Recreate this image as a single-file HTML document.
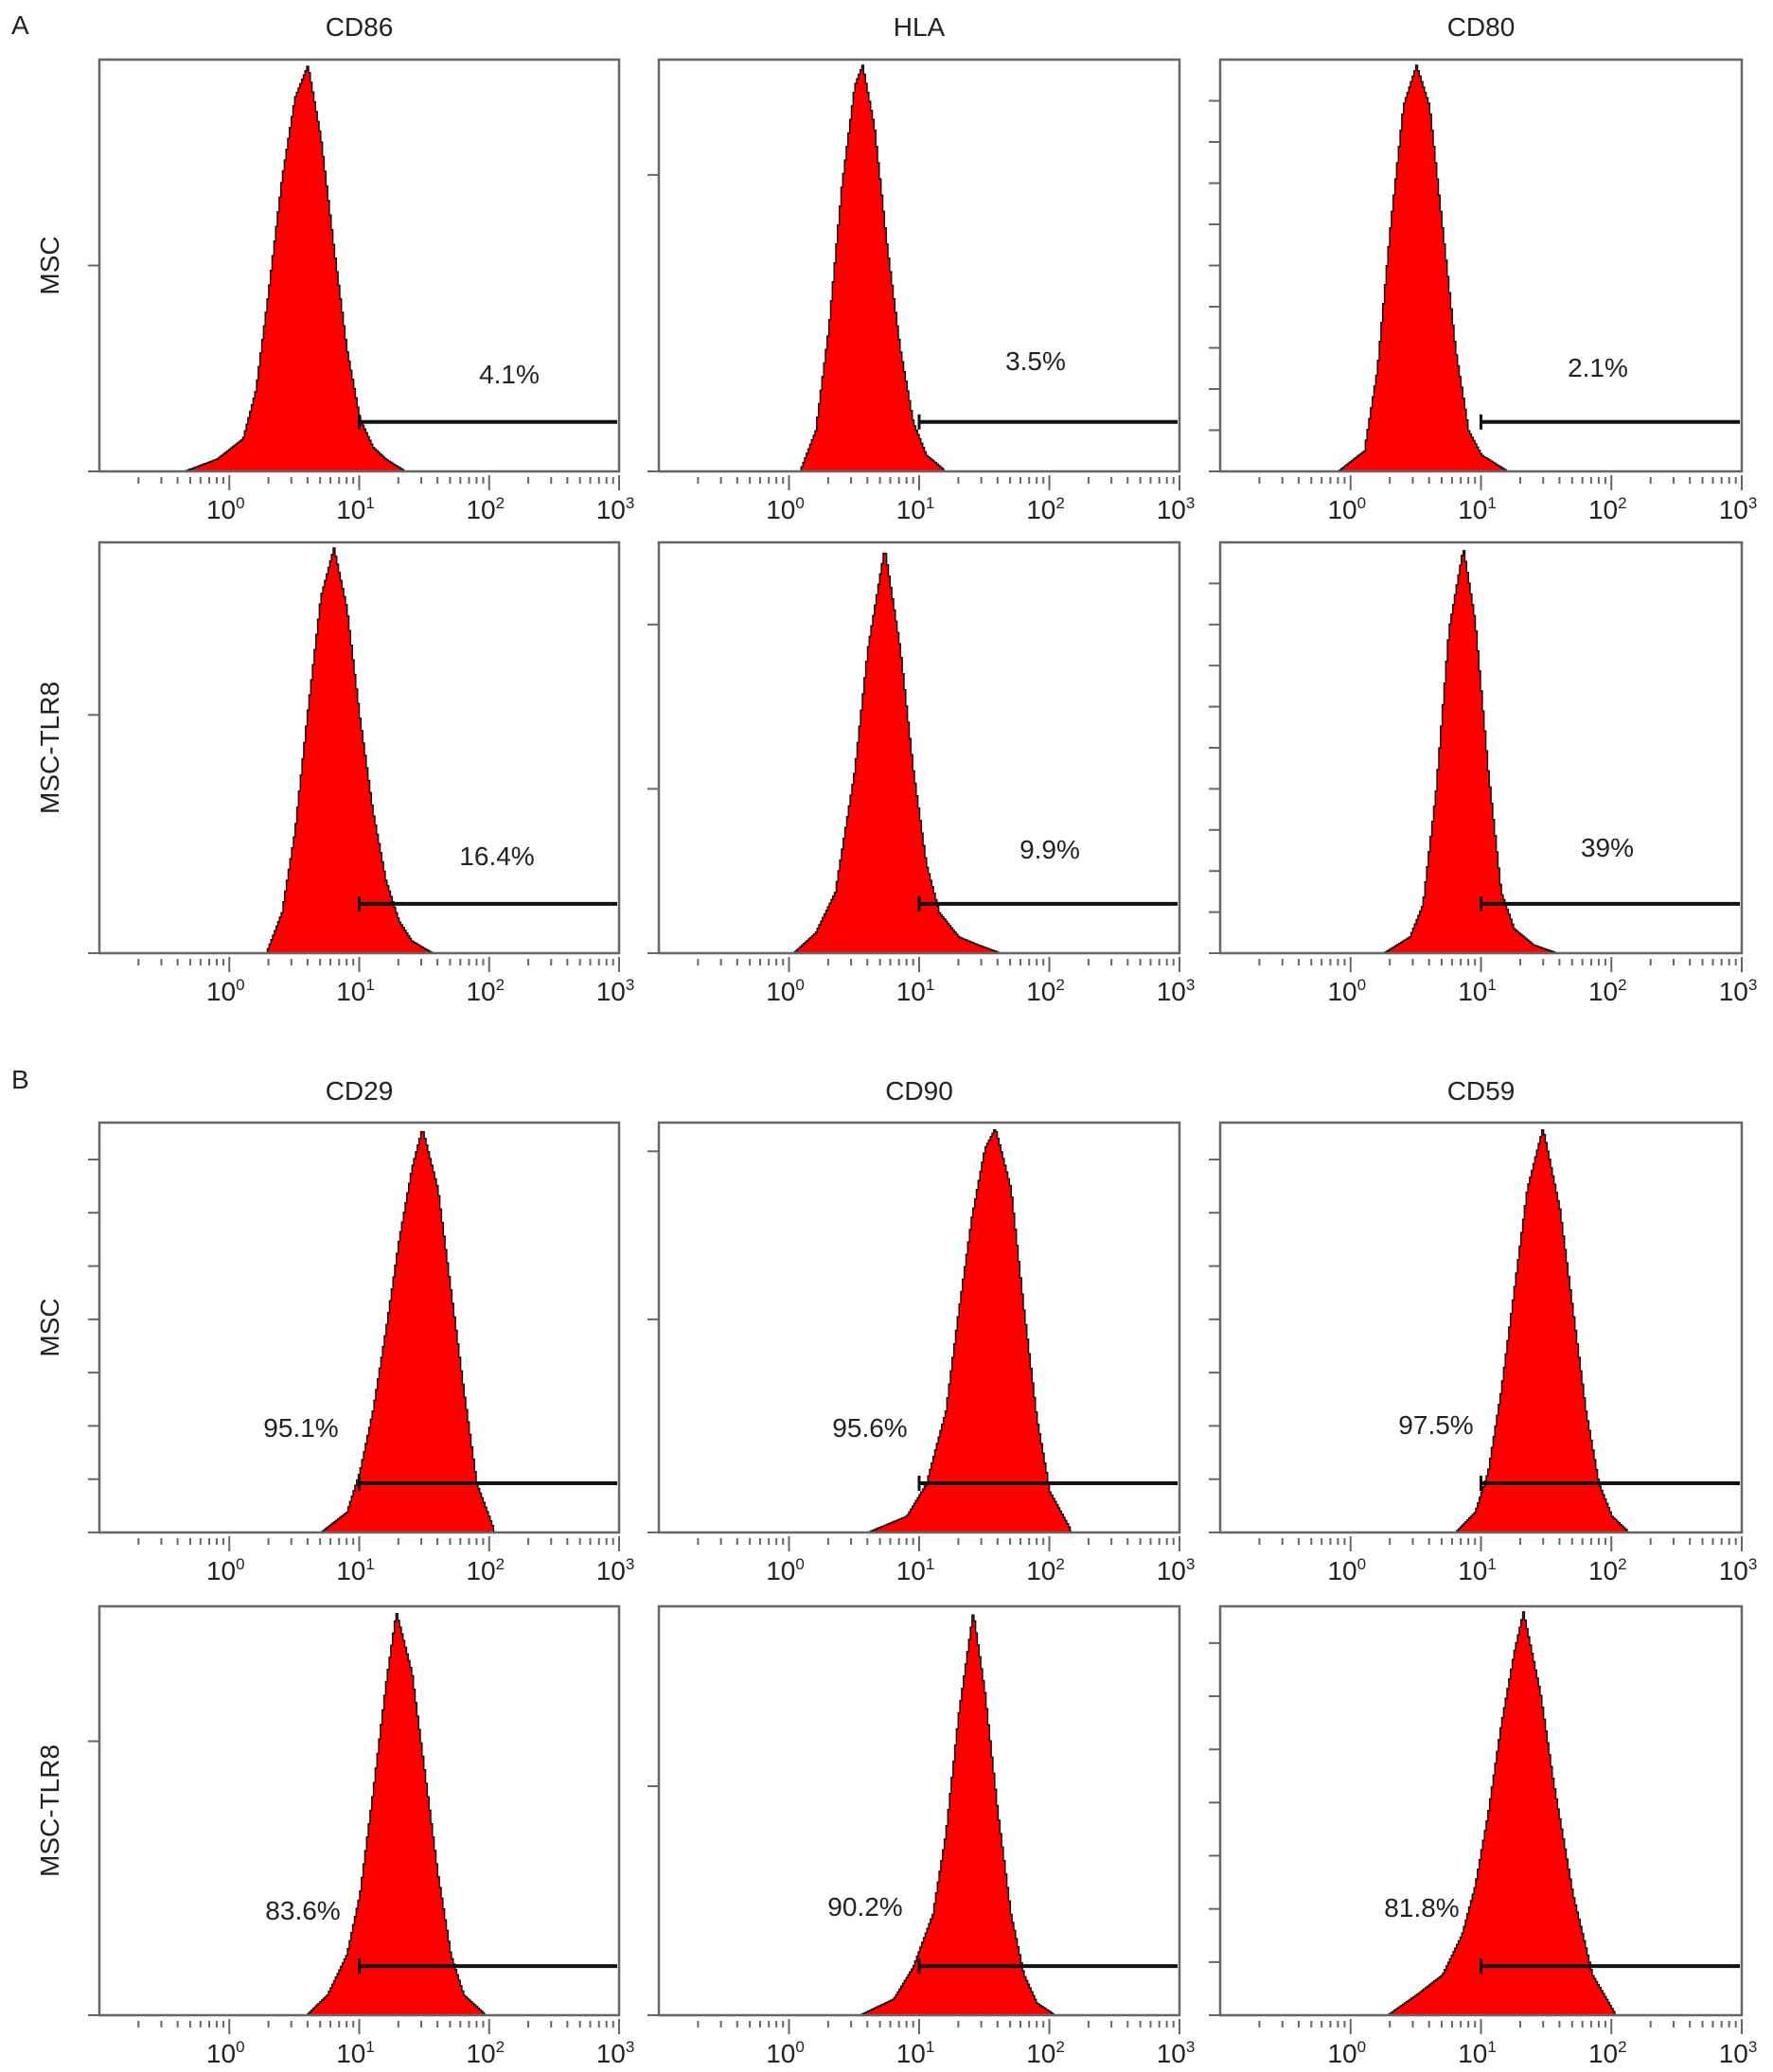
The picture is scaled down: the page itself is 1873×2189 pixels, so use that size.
<!DOCTYPE html>
<html><head><meta charset="utf-8">
<style>
html,body{margin:0;padding:0;background:#fff;}
svg{display:block;font-family:"Liberation Sans",Arial,sans-serif;}
</style></head>
<body>
<svg id="fig" width="1873" height="2189" viewBox="0 0 1873 2189" xmlns="http://www.w3.org/2000/svg">
<text x="12" y="36" font-size="28" fill="#222">A</text>
<text x="12" y="1150" font-size="28" fill="#222">B</text>
</svg>
<script>
// ---- data ----
const markers = ["CD86","HLA","CD80","CD86","HLA","CD80","CD29","CD90","CD59","CD29","CD90","CD59"];
const percents = ["4.1%","3.5%","2.1%","16.4%","9.9%","39%","95.1%","95.6%","97.5%","83.6%","90.2%","81.8%"];
const xTickLabels = ["0","1","2","3"];
// log10 positions of histogram points and relative heights per panel
const histX = [
 [-0.35,-0.1,0.1,0.2,0.3,0.4,0.5,0.6,0.7,0.8,0.9,1.0,1.1,1.2,1.35],
 [0.08,0.2,0.3,0.4,0.5,0.56,0.65,0.75,0.85,0.95,1.05,1.2],
 [-0.1,0.1,0.2,0.3,0.4,0.5,0.6,0.7,0.8,0.9,1.0,1.2],
 [0.28,0.4,0.5,0.6,0.7,0.8,0.9,1.0,1.1,1.2,1.3,1.4,1.56],
 [0.03,0.2,0.35,0.5,0.6,0.73,0.85,0.95,1.05,1.15,1.3,1.45,1.62],
 [0.25,0.45,0.55,0.65,0.75,0.86,0.95,1.05,1.15,1.25,1.4,1.58],
 [0.7,0.9,1.0,1.1,1.2,1.3,1.4,1.48,1.6,1.7,1.8,1.9,2.04],
 [0.6,0.9,1.05,1.2,1.3,1.4,1.5,1.58,1.7,1.8,1.9,2.0,2.17],
 [0.8,0.95,1.05,1.15,1.25,1.35,1.47,1.6,1.7,1.8,1.9,2.0,2.13],
 [0.59,0.75,0.9,1.0,1.1,1.2,1.28,1.4,1.5,1.6,1.7,1.8,1.97],
 [0.54,0.8,0.95,1.1,1.2,1.3,1.41,1.5,1.6,1.7,1.8,1.9,2.04],
 [0.28,0.5,0.7,0.85,0.95,1.05,1.15,1.25,1.32,1.45,1.55,1.7,1.85,2.03]
];
const histY = [
 [0,0.03,0.08,0.2,0.45,0.72,0.92,1.0,0.82,0.55,0.3,0.13,0.06,0.03,0],
 [0,0.1,0.35,0.7,0.95,1.0,0.85,0.55,0.3,0.12,0.04,0],
 [0,0.05,0.25,0.6,0.9,1.0,0.9,0.6,0.3,0.1,0.04,0],
 [0,0.1,0.3,0.6,0.88,1.0,0.85,0.58,0.35,0.18,0.08,0.03,0],
 [0,0.05,0.15,0.45,0.75,1.0,0.75,0.45,0.22,0.1,0.04,0.02,0],
 [0,0.04,0.12,0.4,0.8,1.0,0.82,0.45,0.15,0.06,0.02,0],
 [0,0.05,0.15,0.3,0.5,0.72,0.9,1.0,0.85,0.6,0.35,0.12,0],
 [0,0.04,0.12,0.3,0.55,0.78,0.95,1.0,0.85,0.55,0.28,0.1,0],
 [0,0.05,0.15,0.35,0.6,0.85,1.0,0.8,0.55,0.3,0.12,0.04,0],
 [0,0.05,0.15,0.3,0.55,0.82,1.0,0.85,0.6,0.35,0.15,0.05,0],
 [0,0.04,0.12,0.25,0.45,0.75,1.0,0.8,0.5,0.25,0.1,0.03,0],
 [0,0.05,0.1,0.2,0.32,0.5,0.72,0.9,1.0,0.8,0.58,0.3,0.1,0]
];
const gateStart = [1,1,1,1,1,1,1,1,1,1,1,1];
const gateLevel = [0.12,0.12,0.12,0.12,0.12,0.12,0.12,0.12,0.12,0.12,0.12,0.12];
const yTicks = [
 [0,0.5],[0,0.72],[0,0.1,0.2,0.3,0.4,0.5,0.6,0.7,0.8,0.9],
 [0,0.58],[0,0.4,0.8],[0,0.1,0.2,0.3,0.4,0.5,0.6,0.7,0.8,0.9],
 [0,0.13,0.26,0.39,0.52,0.65,0.78,0.91],[0,0.52,0.93],[0,0.13,0.26,0.39,0.52,0.65,0.78,0.91],
 [0,0.67],[0,0.56],[0,0.13,0.26,0.39,0.52,0.65,0.78,0.91]
];
const rowLabels = ["MSC","MSC-TLR8","MSC","MSC-TLR8"];
// ---- layout ----
const colL = [105,696,1289], colR = [654,1246,1840];
const rowT = [63,573,1186,1697], rowB = [498,1007,1619,2129];
const labelPos = [[538,405],[1094,391],[1688,398],[525,914],[1109,907],[1698,905],[318,1518],[919,1518],[1517,1515],[320,2028],[914,2024],[1502,2025]];
const NS = "http://www.w3.org/2000/svg";
const svg = document.getElementById("fig");
function mk(tag, attrs, parent){const e=document.createElementNS(NS,tag);for(const k in attrs)e.setAttribute(k,attrs[k]);(parent||svg).appendChild(e);return e;}

for(let r=0;r<4;r++){
  const rl = mk("text",{x:0,y:0,"font-size":28,fill:"#222","text-anchor":"middle",transform:`translate(62,${(rowT[r]+rowB[r])/2}) rotate(-90)`});
  rl.textContent = rowLabels[r];
  
  
}
for(let p=0;p<12;p++){
  const r=Math.floor(p/3), c=p%3;
  const L=colL[c], R=colR[c], T=rowT[r], B=rowB[r];
  const g = mk("g",{});
  
  
  const xs = v => L + (v+1)/4*(R-L);
  const ys = f => B - f*(B-T-6);
  if(r===0||r===2){
    const t = mk("text",{x:(L+R)/2,y:r===0?38:1162,"font-size":28,fill:"#222","text-anchor":"middle"},g);
    t.textContent = markers[p];
    
    
  }
  const X=histX[p], Y=histY[p];
  let pts=[[xs(X[0]),B]];
  const step=(R-L)/300;
  let prevY=B;
  for(let px=xs(X[0]); px<=xs(X[X.length-1]); px+=step){
    const v=(px-L)/(R-L)*4-1;
    let i=0; while(i<X.length-2 && v>X[i+1]) i++;
    const t=Math.max(0,Math.min(1,(v-X[i])/(X[i+1]-X[i])));
    const yy=ys(Y[i]+(Y[i+1]-Y[i])*t);
    pts.push([px,prevY]); pts.push([px,yy]); prevY=yy;
  }
  pts.push([xs(X[X.length-1]),B]);
  const poly = mk("polygon",{points:pts.map(q=>q[0].toFixed(1)+","+q[1].toFixed(1)).join(" "),fill:"#ff0000",stroke:"#111","stroke-width":1.5},g);
  
  
  const fr = mk("rect",{x:L,y:T,width:R-L,height:B-T,fill:"none",stroke:"#666","stroke-width":2.5},g);
  
  
  for(let d=-1; d<3; d++){
    for(let m=2;m<=9;m++){
      const x=xs(d+Math.log10(m));
      const tk=mk("line",{x1:x,y1:B+6,x2:x,y2:B+13,stroke:"#666","stroke-width":2},g);
      
      
    }
  }
  for(let k=0;k<4;k++){
    const x=xs(k);
    const tk=mk("line",{x1:x,y1:B+4,x2:x,y2:B+20,stroke:"#666","stroke-width":2},g);
    
    
    const lb=mk("text",{x:x-4,y:B+50,"font-size":28,fill:"#222","text-anchor":"middle"},g);
    lb.textContent="10";
    
    
    const sp=mk("tspan",{dy:-11,"font-size":17},lb);
    sp.textContent=xTickLabels[k];
  }
  yTicks[p].forEach(f=>{
    const y=B - f*(B-T);
    const tk=mk("line",{x1:L-12,y1:y,x2:L,y2:y,stroke:"#666","stroke-width":2},g);
    
    
  });
  const gy = B - gateLevel[p]*(B-T);
  const gx = xs(gateStart[p]);
  const gl = mk("line",{x1:gx,y1:gy,x2:R-2,y2:gy,stroke:"#111","stroke-width":4},g);
  
  
  const gc = mk("line",{x1:gx,y1:gy-8,x2:gx,y2:gy+8,stroke:"#111","stroke-width":3},g);
  
  
  const pl = mk("text",{x:labelPos[p][0],y:labelPos[p][1],"font-size":28,fill:"#222","text-anchor":"middle"},g);
  pl.textContent=percents[p];
  
  
}
</script>
</body></html>
